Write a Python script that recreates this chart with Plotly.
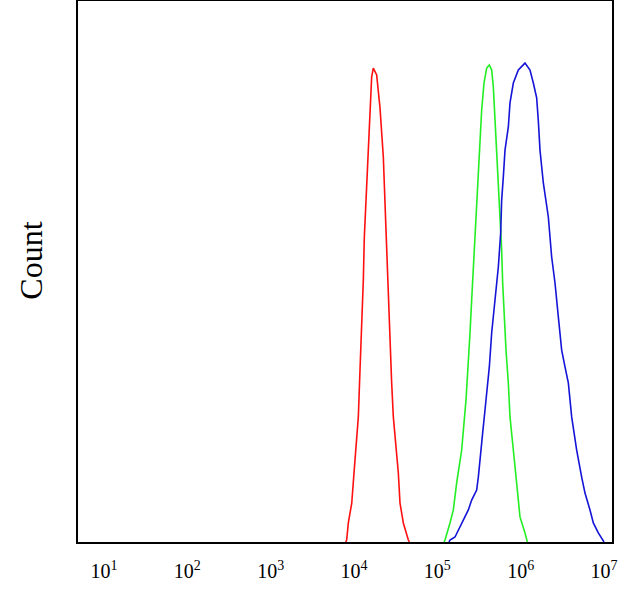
import plotly.graph_objects as go

# Fluorescence intensity (log10) and counts
red_log_x = [3.90, 3.912, 3.932, 3.973, 4.000, 4.024, 4.052, 4.072, 4.092, 4.112, 4.124, 4.152, 4.172, 4.192,
             4.212, 4.232, 4.272, 4.312, 4.332, 4.352, 4.372, 4.392, 4.412, 4.432, 4.452, 4.472, 4.512,
             4.532, 4.552, 4.592, 4.652, 4.665]
red_count = [0, 0.9, 8.8, 18.0, 31.9, 42.5, 57.8, 79.5, 99.4, 121.1, 140.9, 165.9, 182.5, 198.2,
             214.9, 219.0, 215.8, 200.6, 189.0, 177.9, 156.7, 134.9, 113.2, 92.0, 73.5, 57.8, 42.5,
             31.9, 18.0, 8.8, 0.9, 0]

green_log_x = [5.08, 5.092, 5.152, 5.192, 5.232, 5.292, 5.344, 5.372, 5.392, 5.412, 5.432, 5.452, 5.472,
               5.492, 5.512, 5.532, 5.560, 5.592, 5.624, 5.652, 5.672, 5.692, 5.712, 5.732, 5.752,
               5.772, 5.784, 5.800, 5.824, 5.852, 5.872, 5.912, 5.952, 5.992, 6.052, 6.072, 6.08]
green_count = [0, 0.9, 8.8, 14.8, 27.3, 42.5, 65.6, 80.9, 96.6, 111.8, 127.1, 142.8, 158.0,
               173.3, 184.4, 199.6, 212.1, 219.0, 220.4, 218.1, 210.3, 196.4, 181.1, 165.9, 150.2,
               134.9, 119.7, 104.0, 88.7, 73.5, 57.8, 42.5, 27.3, 11.6, 4.2, 0.9, 0]

blue_log_x = [5.14, 5.152, 5.212, 5.272, 5.332, 5.372, 5.412, 5.472, 5.492, 5.512, 5.544, 5.572, 5.600,
              5.624, 5.652, 5.692, 5.732, 5.760, 5.772, 5.792, 5.812, 5.852, 5.872, 5.912, 5.972,
              6.052, 6.112, 6.152, 6.192, 6.212, 6.232, 6.272, 6.304, 6.332, 6.372, 6.412, 6.452,
              6.492, 6.532, 6.572, 6.612, 6.672, 6.732, 6.772, 6.832, 6.872, 6.932, 6.992, 7.00]
blue_count = [0, 0.9, 2.3, 6.9, 11.6, 14.8, 19.4, 24.0, 30.0, 39.3, 50.4, 61.0, 70.2,
              80.9, 96.6, 111.8, 127.1, 142.8, 158.0, 168.7, 181.1, 191.8, 202.9, 212.1, 218.1,
              221.3, 218.1, 212.1, 205.2, 194.6, 181.1, 165.9, 158.0, 150.2, 131.7, 119.7, 104.0,
              88.7, 80.9, 73.5, 57.8, 42.5, 30.0, 22.6, 14.8, 8.8, 4.2, 0.9, 0]

tick_exponents = [1, 2, 3, 4, 5, 6, 7]
tick_vals = [10 ** e for e in tick_exponents]
tick_text = [f"10<sup>{e}</sup>" for e in tick_exponents]

fig = go.Figure()
for lx, cnt, col in [(red_log_x, red_count, "#FF1010"),
                     (green_log_x, green_count, "#22EE22"),
                     (blue_log_x, blue_count, "#1414D8")]:
    fig.add_trace(go.Scatter(x=[10 ** v for v in lx], y=cnt, mode="lines",
                             line=dict(color=col, width=1.6), showlegend=False,
                             hoverinfo="skip"))

fig.update_layout(
    width=641, height=590,
    margin=dict(l=78, r=29, t=1, b=48, autoexpand=False),
    paper_bgcolor="white", plot_bgcolor="white",
    font=dict(family="Liberation Serif", color="black"),
    xaxis=dict(type="log", range=[0.688, 7.096], tickvals=tick_vals, ticktext=tick_text,
               showgrid=False, zeroline=False, showline=True, linecolor="black", linewidth=2,
               mirror=True, ticks="", ticklabelstandoff=10,
               tickfont=dict(family="Liberation Serif", size=20, color="black")),
    yaxis=dict(range=[0, 250], showgrid=False, zeroline=False, showline=True,
               linecolor="black", linewidth=2, mirror=True, showticklabels=False, ticks=""),
    annotations=[dict(text="Count", xref="paper", yref="paper", x=0, y=0.52,
                      xanchor="center", yanchor="middle", xshift=-47, textangle=-90,
                      showarrow=False, font=dict(family="Liberation Serif", size=32, color="black"))],
)

fig.write_html("out.html", config={"displayModeBar": False},
               post_script="document.body.style.margin='0';")
